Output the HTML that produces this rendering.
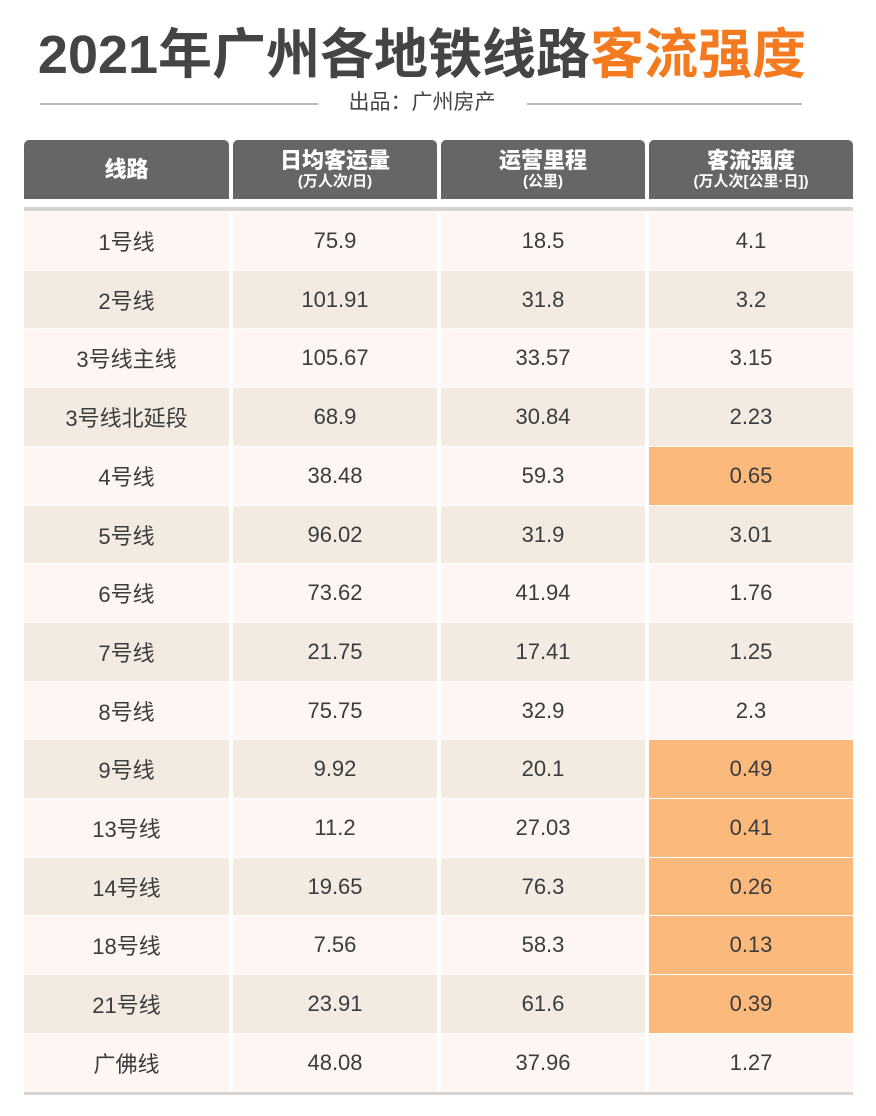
<!DOCTYPE html>
<html><head><meta charset="utf-8"><style>
body{margin:0;width:876px;height:1116px;background:#fff;font-family:"Liberation Sans","Noto Sans CJK SC",sans-serif;position:relative;overflow:hidden}
.a{position:absolute}
.title{left:0;width:842px;top:20px;text-align:center;font-size:54px;font-weight:bold;color:#444;letter-spacing:0px;line-height:70px;white-space:nowrap}
.title span{color:#f47a20}
.sub{top:88px;left:0;width:842px;text-align:center;font-size:21px;color:#444;line-height:30px}
.line{height:2px;background:#b8b8b8;top:103px}
.hd{top:140px;height:59px;background:#666;color:#fff;text-align:center;border-radius:5px 5px 0 0;display:flex;flex-direction:column;justify-content:center;font-weight:bold}
.hd b{font-size:22px;line-height:25px}
.hd i{font-style:normal;font-size:15px;line-height:18px}
.cell{display:flex;align-items:center;justify-content:center;font-size:22px;color:#3c3c3c}
</style></head><body>
<div class="a title" style="left:0;width:844px">2021年广州各地铁线路<span>客流强度</span></div>
<div class="a line" style="left:40px;width:278px"></div>
<div class="a line" style="left:527px;width:275px"></div>
<div class="a sub" style="left:0;width:844px">出品：广州房产</div>
<div class="a hd" style="left:24px;width:205px"><b>线路</b></div>
<div class="a hd" style="left:233px;width:204px"><b>日均客运量</b><i>(万人次/日)</i></div>
<div class="a hd" style="left:441px;width:204px"><b>运营里程</b><i>(公里)</i></div>
<div class="a hd" style="left:649px;width:204px"><b>客流强度</b><i>(万人次[公里·日])</i></div>
<div class="a" style="left:24px;width:829px;top:207px;height:4px;background:#d6d3d0"></div>
<div class="a" style="left:24px;width:829px;top:1092px;height:3px;background:#d6d3d0"></div>
<div id="tbl"></div>
<script>
const lines=["1号线","2号线","3号线主线","3号线北延段","4号线","5号线","6号线","7号线","8号线","9号线","13号线","14号线","18号线","21号线","广佛线"];
const ridership=["75.9","101.91","105.67","68.9","38.48","96.02","73.62","21.75","75.75","9.92","11.2","19.65","7.56","23.91","48.08"];
const lengths=["18.5","31.8","33.57","30.84","59.3","31.9","41.94","17.41","32.9","20.1","27.03","76.3","58.3","61.6","37.96"];
const intensity=["4.1","3.2","3.15","2.23","0.65","3.01","1.76","1.25","2.3","0.49","0.41","0.26","0.13","0.39","1.27"];
const colX=[24,233,441,649],colW=[205,204,204,204];
const top0=212,rowH=58.7;
const tbl=document.getElementById('tbl');
lines.forEach((l,i)=>{
  const vals=[l,ridership[i],lengths[i],intensity[i]];
  vals.forEach((v,j)=>{
    const d=document.createElement('div');
    d.className='a cell';
    
    
    let bg=i%2==0?'#fdf6f2':'#f3ebe1';
    if(j==3&&parseFloat(v)<1)bg='#fbb97c';
    const y=Math.round(top0+i*rowH),y2=Math.round(top0+(i+1)*rowH);
    d.style.cssText=`left:${colX[j]}px;width:${colW[j]}px;top:${y}px;height:${y2-y-1}px;background:${bg}`;
    d.textContent=v;
    tbl.appendChild(d);
  });
});
</script>
</body></html>
